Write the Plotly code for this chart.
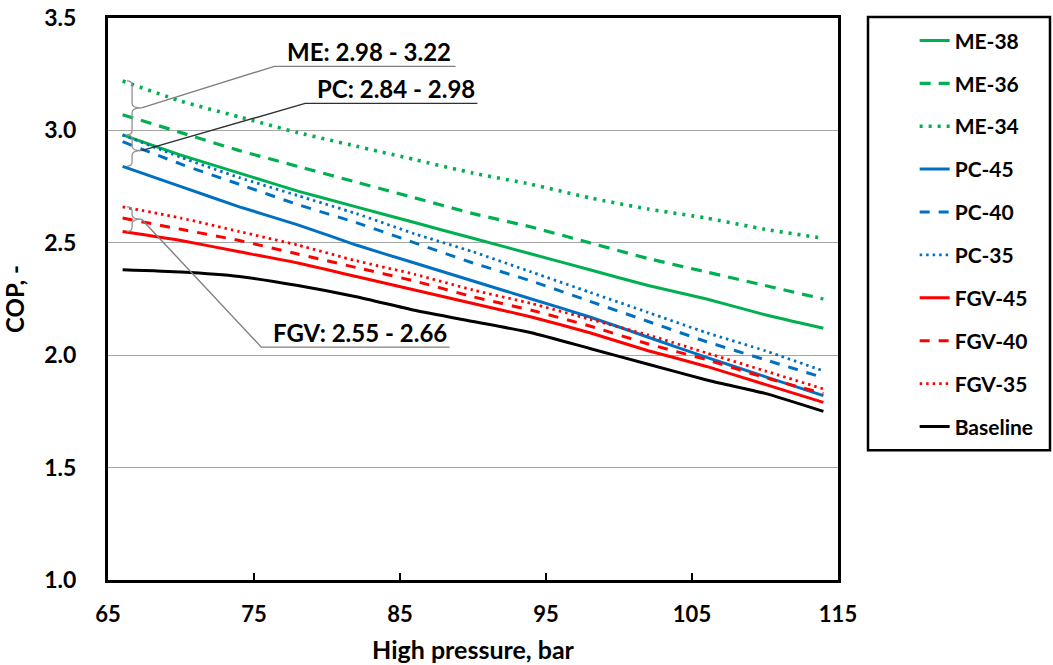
import plotly.graph_objects as go

pressure = [66, 70, 74, 78, 82, 86, 90, 94, 98, 102, 106, 110, 114]

me_38 = [2.98, 2.89, 2.81, 2.73, 2.66, 2.59, 2.52, 2.45, 2.38, 2.31, 2.25, 2.18, 2.12]
me_36 = [3.07, 2.99, 2.91, 2.84, 2.77, 2.70, 2.63, 2.57, 2.50, 2.43, 2.37, 2.31, 2.25]
me_34 = [3.22, 3.13, 3.06, 2.99, 2.93, 2.87, 2.81, 2.76, 2.70, 2.65, 2.61, 2.56, 2.52]
pc_45 = [2.84, 2.75, 2.66, 2.58, 2.49, 2.41, 2.33, 2.25, 2.17, 2.08, 1.99, 1.905, 1.82]
pc_40 = [2.95, 2.85, 2.76, 2.67, 2.59, 2.50, 2.41, 2.33, 2.24, 2.15, 2.06, 1.98, 1.90]
pc_35 = [2.98, 2.88, 2.79, 2.71, 2.63, 2.54, 2.46, 2.37, 2.28, 2.19, 2.10, 2.02, 1.93]
fgv_45 = [2.55, 2.51, 2.46, 2.41, 2.35, 2.29, 2.23, 2.17, 2.10, 2.02, 1.95, 1.87, 1.79]
fgv_40 = [2.61, 2.56, 2.51, 2.45, 2.39, 2.33, 2.26, 2.20, 2.13, 2.05, 1.98, 1.90, 1.83]
fgv_35 = [2.66, 2.61, 2.55, 2.49, 2.42, 2.36, 2.29, 2.23, 2.16, 2.09, 2.01, 1.93, 1.85]
baseline = [2.38, 2.37, 2.35, 2.31, 2.26, 2.20, 2.15, 2.10, 2.03, 1.96, 1.89, 1.83, 1.75]

names = ["ME-38", "ME-36", "ME-34", "PC-45", "PC-40", "PC-35",
         "FGV-45", "FGV-40", "FGV-35", "Baseline"]
series = [me_38, me_36, me_34, pc_45, pc_40, pc_35, fgv_45, fgv_40, fgv_35, baseline]

GREEN, BLUE, RED, BLACK = "#00B050", "#0070C0", "#FF0000", "#000000"
styles = [
    (GREEN, "solid", 3), (GREEN, "11px,8px", 3.2), (GREEN, "3px,6px", 3.6),
    (BLUE, "solid", 3), (BLUE, "10px,9px", 3), (BLUE, "2.5px,4px", 2.8),
    (RED, "solid", 3), (RED, "10px,9px", 3), (RED, "2.5px,4px", 2.8),
    (BLACK, "solid", 3),
]

FONT = "Lato, 'Open Sans', sans-serif"

fig = go.Figure()
for name, ys, (col, dash, w) in zip(names, series, styles):
    fig.add_trace(go.Scatter(
        x=pressure, y=ys, name=name, mode="lines", legendgroup=name,
        line=dict(color=col, dash=dash, width=w, shape="spline", smoothing=0.5),
    ))

# braces + leader lines for the ranges at the first pressure
groups = [
    ("ME", [me_38, me_36, me_34], (76.4, 3.285, 88.8), "#808080"),
    ("PC", [pc_45, pc_40, pc_35], (78.5, 3.12, 90.3), "#303030"),
    ("FGV", [fgv_45, fgv_40, fgv_35], (75.5, 2.036, 88.4), "#808080"),
]
shapes = []
annotations = []
xh, xs, xt = 66.3, 66.65, 67.3
for label, grp, (ex, ey, endx), lcol in groups:
    firsts = [g[0] for g in grp]
    lo, hi = min(firsts), max(firsts)
    mid = (lo + hi) / 2
    d = 0.02
    path = (f"M {xh},{hi} Q {xs},{hi} {xs},{hi - d} L {xs},{mid + d} "
            f"Q {xs},{mid} {xt},{mid} Q {xs},{mid} {xs},{mid - d} "
            f"L {xs},{lo + d} Q {xs},{lo} {xh},{lo}")
    shapes.append(dict(type="path", path=path, xref="x", yref="y",
                       line=dict(color="#909090", width=1.3)))
    shapes.append(dict(type="path", xref="x", yref="y",
                       path=f"M {xt},{mid} L {ex},{ey} L {endx},{ey}",
                       line=dict(color=lcol, width=1.4)))
    annotations.append(dict(
        x=(ex + endx) / 2 + 0.3, y=ey, xref="x", yref="y", yanchor="bottom",
        text=f"<b>{label}: {lo:.2f} - {hi:.2f}</b>", showarrow=False,
        font=dict(family=FONT, size=24, color="#000000"), yshift=-2,
    ))

# legend frame
shapes.append(dict(type="rect", xref="paper", yref="paper",
                   x0=1.0411, x1=1.2904, y0=0.231, y1=1.0018,
                   line=dict(color="black", width=2.5)))

fig.update_layout(
    width=1053, height=665,
    margin=dict(l=108, r=215, t=18, b=85, autoexpand=False),
    paper_bgcolor="white", plot_bgcolor="white",
    font=dict(family=FONT, color="black"),
    showlegend=True,
    legend=dict(x=1.105, y=0.996, xanchor="left", yanchor="top",
                font=dict(family=FONT, size=21, color="black", weight="bold"),
                tracegroupgap=12.6, traceorder="grouped", maxheight=640,
                bgcolor="rgba(0,0,0,0)", borderwidth=0),
    shapes=shapes,
    annotations=annotations,
)
fig.update_xaxes(
    range=[65, 115], tickvals=[65, 75, 85, 95, 105, 115],
    ticks="inside", ticklen=7, tickwidth=1.5, tickcolor="black",
    showline=True, linewidth=3, linecolor="black", mirror=True,
    showgrid=False, zeroline=False, ticklabelstandoff=13, automargin=False,
    tickfont=dict(family=FONT, size=22, weight="bold"),
    title=dict(text="<b>High pressure, bar</b>", font=dict(family=FONT, size=25), standoff=16),
)
fig.update_yaxes(
    range=[1.0, 3.5], dtick=0.5, tickformat=".1f",
    ticks="", showline=True, linewidth=3, linecolor="black", mirror=True,
    showgrid=True, gridcolor="#A6A6A6", gridwidth=1.2, zeroline=False,
    ticklabelstandoff=24, automargin=False,
    tickfont=dict(family=FONT, size=23, weight="bold"),
    title=dict(text="<b>COP, -</b>", font=dict(family=FONT, size=24), standoff=22),
)

fig.write_html("out.html")
